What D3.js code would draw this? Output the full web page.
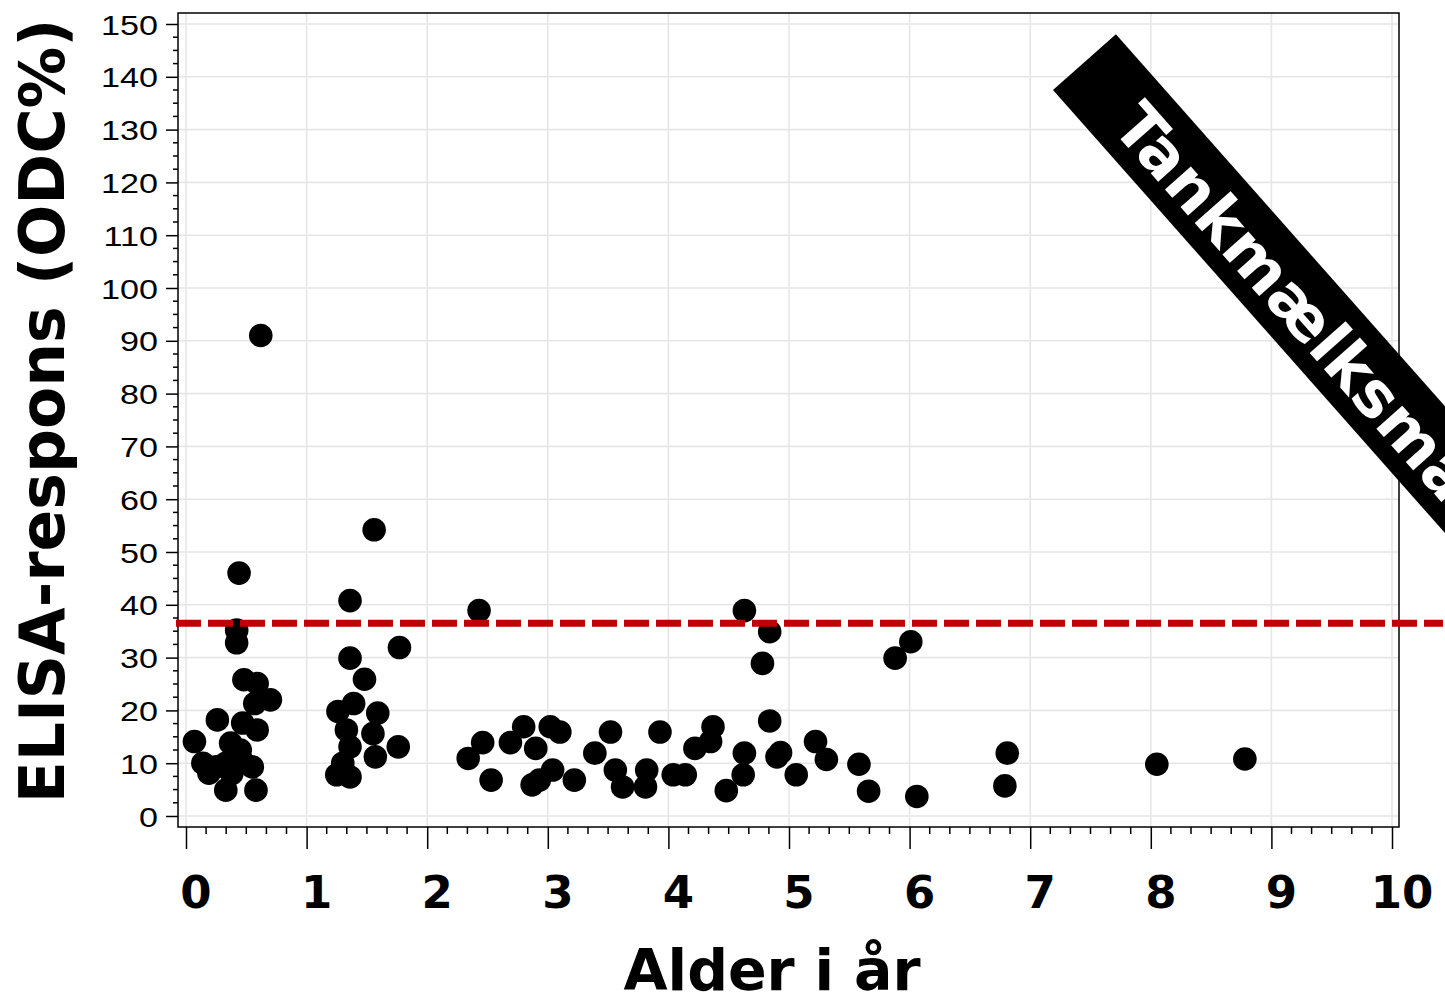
<!DOCTYPE html>
<html><head><meta charset="utf-8">
<script src="https://cdn.jsdelivr.net/npm/d3@7"></script>
<style>body{margin:0;background:#fff;} svg{display:block}</style>
</head><body>
<svg id="chart" width="1445" height="997"></svg>
<script>
// ---- data ----
const ages = [
  0.07,0.14,0.19,0.25,0.26,0.33,0.33,0.37,0.38,0.46,0.42,0.42,0.44,0.48,0.47,0.55,0.57,0.59,0.59,0.58,0.70,0.62,0.45,
  1.36,1.56,1.36,1.48,1.77,1.26,1.39,1.59,1.33,1.55,1.76,1.36,1.57,1.30,1.25,1.36,
  2.43,2.34,2.46,2.53,2.69,2.80,2.90,2.87,2.93,3.04,3.02,3.10,3.22,3.39,3.52,3.56,3.62,3.82,3.81,3.93,
  4.04,4.14,4.22,4.35,4.37,4.48,4.63,4.84,4.78,4.84,4.63,4.62,4.90,4.93,5.06,5.22,5.31,5.58,5.66,5.88,6.01,6.06,
  6.81,6.79,8.05,8.78
];
const elisa = [
  14.1,10.0,8.1,9.3,18.2,10.0,4.9,13.8,8.0,10.6,32.8,35.2,46.0,25.8,17.6,9.3,21.3,25.1,16.3,4.9,22.0,91.0,12.5,
  40.8,54.2,29.9,25.9,31.9,19.8,21.3,19.5,16.3,15.6,13.1,13.1,11.2,10.0,7.8,7.4,
  38.9,10.9,13.9,6.8,13.9,16.9,12.8,5.9,6.8,8.7,16.9,15.9,6.8,11.9,15.9,8.7,5.5,8.7,5.5,15.9,
  7.8,7.8,12.8,14.1,16.9,4.8,38.9,34.9,28.9,18.0,11.9,7.8,11.2,12.0,7.8,14.1,10.7,9.8,4.7,29.9,33.0,3.7,
  11.9,5.7,9.8,10.8
];
const threshold = 36.5;
const xTickValues = [0,1,2,3,4,5,6,7,8,9,10];
const xTickLabels = ["0","1","2","3","4","5","6","7","8","9","10"];
const yTickValues = [0,10,20,30,40,50,60,70,80,90,100,110,120,130,140,150];
const yTickLabels = ["0","10","20","30","40","50","60","70","80","90","100","110","120","130","140","150"];
const xTitle = "Alder i år";
const yTitle = "ELISA-respons (ODC%)";
const bannerText = "Tankmælksmåling";

// ---- layout ----
const svg = d3.select("#chart");
const frame = {left:178, top:13, right:1399, bottom:827};
const x = d3.scaleLinear().domain([0,10]).range([186,1392]);
const y = d3.scaleLinear().domain([0,150]).range([816,24]);
const gridColor = "#e6e6e6";

svg.append("rect").attr("width",1445).attr("height",997).attr("fill","#fff");

// grid
const grid = svg.append("g");
grid.selectAll("line.gx").data(xTickValues).join("line")
  .attr("x1",d=>x(d)).attr("x2",d=>x(d)).attr("y1",frame.top).attr("y2",frame.bottom)
  .attr("stroke",gridColor).attr("stroke-width",1.6);
grid.selectAll("line.gy").data(yTickValues).join("line")
  .attr("y1",d=>y(d)).attr("y2",d=>y(d)).attr("x1",frame.left).attr("x2",frame.right)
  .attr("stroke",gridColor).attr("stroke-width",1.6);

// frame
svg.append("rect").attr("x",frame.left).attr("y",frame.top)
  .attr("width",frame.right-frame.left).attr("height",frame.bottom-frame.top)
  .attr("fill","none").attr("stroke","#000").attr("stroke-width",1.5);

// y axis
const yAxis = svg.append("g").attr("transform",`translate(${frame.left},0)`)
  .call(d3.axisLeft(y).tickValues(yTickValues).tickSize(12).tickSizeOuter(0)
        .tickFormat((d,i)=>yTickLabels[i]));
yAxis.select(".domain").remove();
yAxis.selectAll(".tick line").attr("stroke","#000").attr("stroke-width",1.5);
yAxis.selectAll(".tick text")
  .attr("x",-20/1.22).attr("dy","0.36em")
  .attr("transform","scale(1.22,1)")
  .attr("font-family","'Liberation Sans', Arial, sans-serif")
  .attr("font-size",28).attr("fill","#000");
const yMinor = d3.range(0,150.01,2.5).filter(v=>Math.abs(v%10)>0.01);
svg.append("g").selectAll("line").data(yMinor).join("line")
  .attr("x1",frame.left-5).attr("x2",frame.left).attr("y1",d=>y(d)).attr("y2",d=>y(d))
  .attr("stroke","#000").attr("stroke-width",1.5);

// x axis
const xAxis = svg.append("g").attr("transform",`translate(0,${frame.bottom})`)
  .call(d3.axisBottom(x).tickValues(xTickValues).tickSize(22).tickSizeOuter(0).tickFormat(""));
xAxis.select(".domain").remove();
xAxis.selectAll(".tick line").attr("stroke","#000").attr("stroke-width",1.5);
const xMinor = d3.range(0,60).map(i=>i/6).filter((v,i)=>i%6!==0);
svg.append("g").selectAll("line").data(xMinor).join("line")
  .attr("x1",d=>x(d)).attr("x2",d=>x(d)).attr("y1",frame.bottom).attr("y2",frame.bottom+7)
  .attr("stroke","#000").attr("stroke-width",1.5);
svg.append("g").selectAll("text").data(xTickValues).join("text")
  .attr("x",d=>x(d)+10).attr("y",908)
  .attr("text-anchor","middle")
  .attr("font-family","'DejaVu Sans', Verdana, sans-serif").attr("font-weight","bold")
  .attr("font-size",45).attr("fill","#000")
  .text((d,i)=>xTickLabels[i]);

// titles
svg.append("text").attr("x",772).attr("y",990).attr("text-anchor","middle")
  .attr("font-family","'DejaVu Sans', Verdana, sans-serif").attr("font-weight","bold")
  .attr("font-size",57).attr("fill","#000").text(xTitle);
svg.append("text").attr("transform","translate(64,411) rotate(-90)").attr("text-anchor","middle")
  .attr("font-family","'DejaVu Sans', Verdana, sans-serif").attr("font-weight","bold")
  .attr("font-size",61.5).attr("fill","#000").text(yTitle);

// points
svg.append("g").selectAll("circle").data(ages.map((a,i)=>[a,elisa[i]])).join("circle")
  .attr("cx",d=>x(d[0])).attr("cy",d=>y(d[1])).attr("r",11.8).attr("fill","#000");

// threshold line
svg.append("line").attr("x1",176).attr("x2",1443)
  .attr("y1",y(threshold)).attr("y2",y(threshold))
  .attr("stroke","#c00000").attr("stroke-width",7).attr("stroke-dasharray","25,7");

// banner
const banner = svg.append("g").attr("transform","translate(1053,90) rotate(48.5)");
banner.append("rect").attr("x",0).attr("y",-84).attr("width",800).attr("height",84).attr("fill","#000");
banner.append("text").attr("x",66).attr("y",-18)
  .attr("font-family","'DejaVu Sans', Verdana, sans-serif").attr("font-weight","bold")
  .attr("font-size",63).attr("fill","#fff").text(bannerText);
</script>
</body></html>
